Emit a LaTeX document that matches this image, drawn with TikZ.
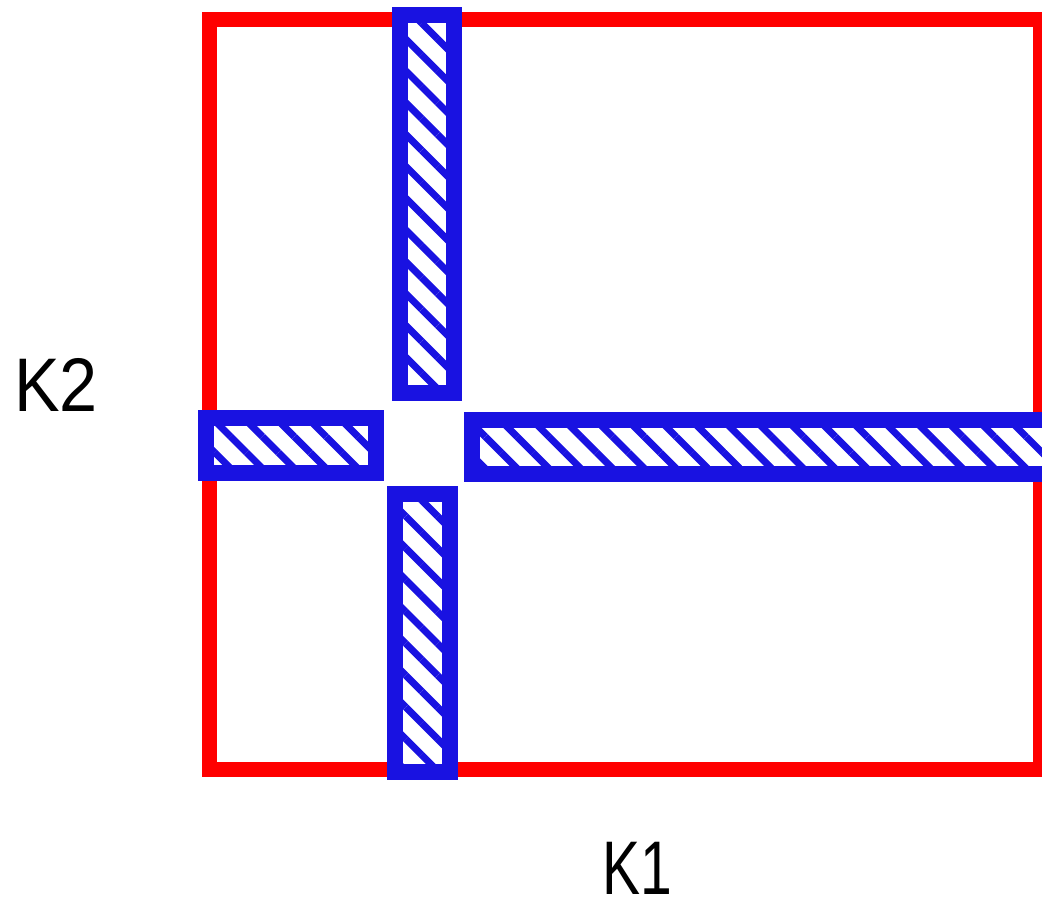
\documentclass[tikz,border=0pt]{standalone}
\usepackage{fontspec}
\setmainfont{Liberation Sans}
\usetikzlibrary{patterns.meta}
\definecolor{barblue}{RGB}{25,18,225}
\definecolor{framered}{RGB}{255,0,0}
\tikzset{
  frame/.style={draw=framered, line width=15pt},
  bar/.style={draw=barblue, line width=16pt, preaction={fill=white},
    pattern={Lines[angle=-45,distance=22.5pt,line width=7pt]}, pattern color=barblue},
  klabel/.style={font=\fontsize{76}{78}\selectfont, inner sep=0pt, anchor=base, text depth=0pt}
}
\begin{document}
\begin{tikzpicture}[x=1pt,y=1pt]
\useasboundingbox (0,0) rectangle (1042,906);
\clip (0,0) rectangle (1042,906);
\draw[frame] (209,886.5) rectangle (1040,137);
\draw[bar] (400,891) rectangle (454,513);
\draw[bar] (206,488) rectangle (376,433);
\draw[bar] (472,486) rectangle (1060,431.5);
\draw[bar] (395,412) rectangle (450,134);
\node[klabel, xscale=0.9] (k2) at (56,494) {K2};
\node[klabel, xscale=0.75] (k1) at (637,12) {K1};
\end{tikzpicture}
\end{document}
